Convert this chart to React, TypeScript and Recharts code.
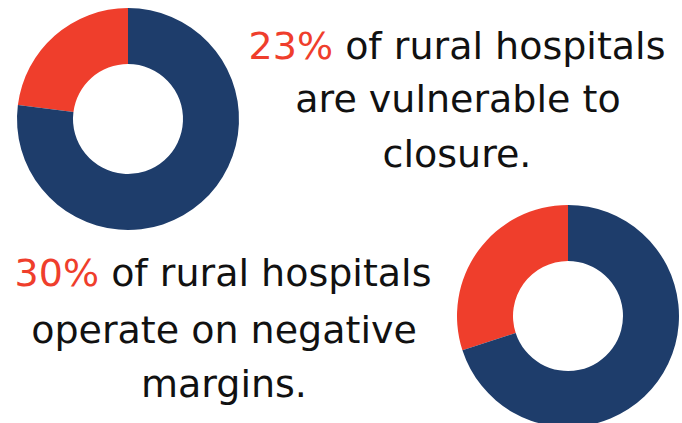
import React from 'react';
import { PieChart, Pie, Cell } from 'recharts';

const sliceNames = ['Share', 'Rest'];
const closureValues = [23, 77];
const marginValues = [30, 70];
const sliceColors = ['#EF3E2C', '#1E3D6B'];

const closureLines = ['of rural hospitals', 'are vulnerable to', 'closure.'];
const marginLines = ['of rural hospitals', 'operate on negative', 'margins.'];

const font = '"DejaVu Sans", sans-serif';

const toData = (vals: number[]) => vals.map((v, i) => ({ name: sliceNames[i], value: v }));

function App() {
  return (
    <div style={{ position: 'absolute', left: 0, top: 0, background: '#fff' }}>
      <PieChart width={682} height={423} margin={{ top: 0, right: 0, bottom: 0, left: 0 }}>
        <Pie
          data={toData(closureValues)}
          dataKey="value"
          cx={128}
          cy={119}
          innerRadius={55}
          outerRadius={111}
          startAngle={90}
          endAngle={450}
          stroke="none"
          isAnimationActive={false}
        >
          {closureValues.map((_, i) => (
            <Cell key={i} fill={sliceColors[i]} />
          ))}
        </Pie>
        <Pie
          data={toData(marginValues)}
          dataKey="value"
          cx={568}
          cy={316}
          innerRadius={55}
          outerRadius={111}
          startAngle={90}
          endAngle={450}
          stroke="none"
          isAnimationActive={false}
        >
          {marginValues.map((_, i) => (
            <Cell key={i} fill={sliceColors[i]} />
          ))}
        </Pie>
        <g fontFamily={font} fontSize={38} fill="#111" textAnchor="middle">
          <text x={457} y={59}>
            <tspan fill={sliceColors[0]}>{closureValues[0]}%</tspan> {closureLines[0]}
          </text>
          <text x={458} y={112}>{closureLines[1]}</text>
          <text x={457} y={167}>{closureLines[2]}</text>
          <text x={223} y={286}>
            <tspan fill={sliceColors[0]}>{marginValues[0]}%</tspan> {marginLines[0]}
          </text>
          <text x={224} y={343}>{marginLines[1]}</text>
          <text x={224} y={397}>{marginLines[2]}</text>
        </g>
      </PieChart>
    </div>
  );
}

export default App;
